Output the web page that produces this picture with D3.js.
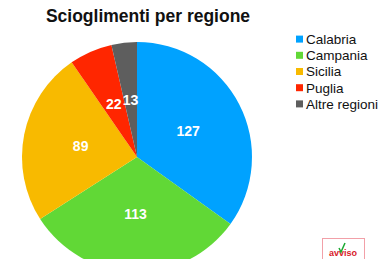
<!DOCTYPE html>
<html><head><meta charset="utf-8">
<script src="https://cdn.jsdelivr.net/npm/d3@7"></script>
<style>html,body{margin:0;padding:0;background:#fff;overflow:hidden}</style>
</head><body>
<svg id="c" width="389" height="259"></svg>
<script>
const categories = ["Calabria", "Campania", "Sicilia", "Puglia", "Altre regioni"];
const values = [127, 113, 89, 22, 13];
const colors = ["#00A2FF", "#61D836", "#F8BA00", "#FF2600", "#5E5E5E"];
const title = "Scioglimenti per regione";

const svg = d3.select("#c");
const font = "Liberation Sans, Arial, sans-serif";
const cx = 137, cy = 157, R = 115;

svg.append("text").attr("x", 148).attr("y", 22).attr("text-anchor", "middle")
  .attr("font-family", font).attr("font-weight", "bold").attr("font-size", 17.5)
  .attr("fill", "#111").text(title);

const data = categories.map((c, i) => ({cat: c, val: values[i], col: colors[i]}));
const pie = d3.pie().value(d => d.val).sort(null);
const arcs = pie(data);
const arc = d3.arc().innerRadius(0).outerRadius(R);
const labelArc = d3.arc().innerRadius(R * 0.5).outerRadius(R * 0.5);

const g = svg.append("g").attr("transform", `translate(${cx},${cy})`);
g.selectAll("path").data(arcs).join("path")
  .attr("d", arc).attr("fill", d => d.data.col);
g.selectAll("text").data(arcs).join("text")
  .attr("transform", d => `translate(${labelArc.centroid(d)})`)
  .attr("text-anchor", "middle").attr("dy", "0.35em")
  .attr("font-family", font).attr("font-weight", "bold").attr("font-size", 14)
  .attr("fill", "#fff").text(d => d.data.val);

const y = d3.scaleBand().domain(categories).range([31, 112]);
const leg = svg.append("g");
const rows = leg.selectAll("g").data(data).join("g")
  .attr("transform", d => `translate(296,${y(d.cat) + y.bandwidth() / 2})`);
rows.append("rect").attr("x", 0).attr("y", -3.5).attr("width", 7).attr("height", 7)
  .attr("fill", d => d.col);
rows.append("text").attr("x", 10).attr("dy", "0.36em")
  .attr("font-family", font).attr("font-size", 13.5).attr("fill", "#111")
  .text(d => d.cat);

// logo
svg.append("rect").attr("x", 322.5).attr("y", 238.5).attr("width", 42).attr("height", 30)
  .attr("fill", "#fff").attr("stroke", "#f2a0a8").attr("stroke-width", 1);
svg.append("text").attr("x", 343).attr("y", 256).attr("text-anchor", "middle")
  .attr("font-family", font).attr("font-weight", "bold").attr("font-size", 9)
  .attr("fill", "#d8202a").text("avviso");
svg.append("path").attr("d", "M339,248 L341,252 L345,243")
  .attr("fill", "none").attr("stroke", "#1aa832").attr("stroke-width", 1.5);
</script>
</body></html>
